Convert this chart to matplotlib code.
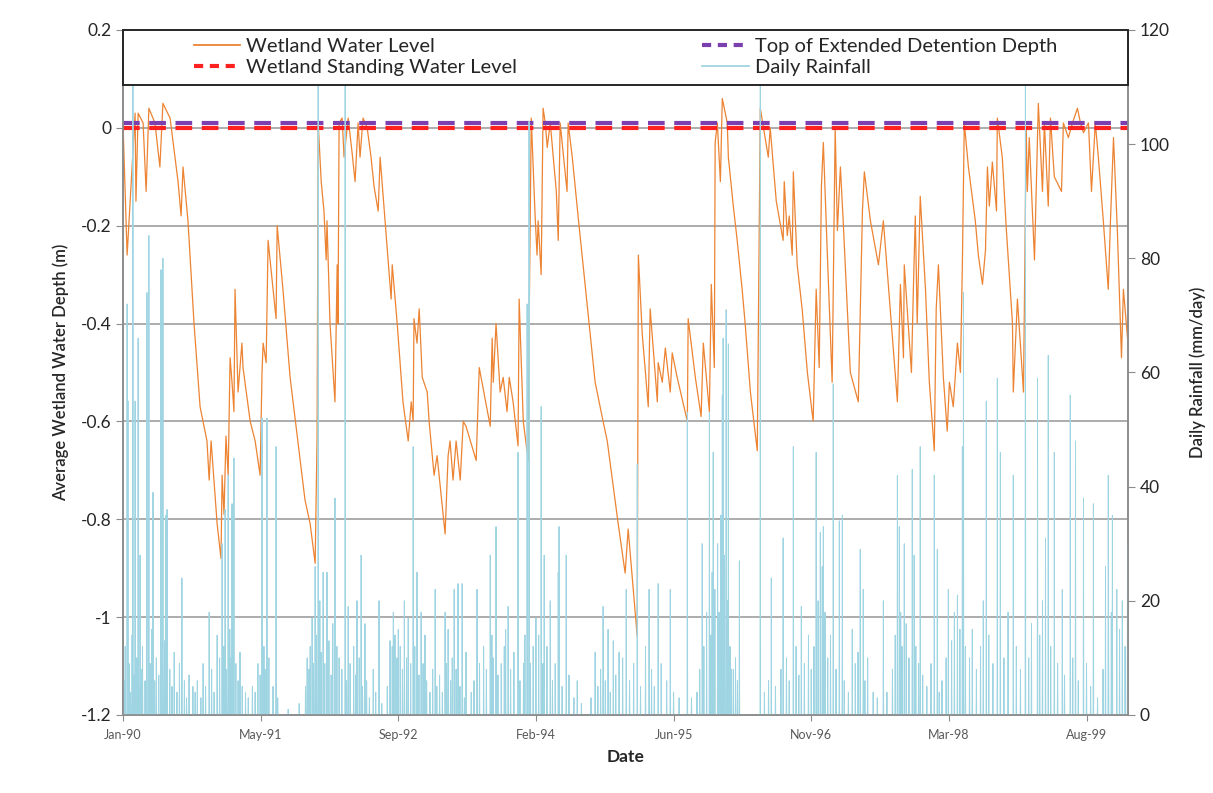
import matplotlib
matplotlib.use('Agg')
import matplotlib.pyplot as plt
import matplotlib.dates as mdates
from matplotlib.lines import Line2D
from matplotlib.patches import Rectangle
import numpy as np
import pandas as pd

plt.rcParams['font.family'] = ['Lato', 'DejaVu Sans']

start = pd.Timestamp('1990-01-01')

# wetland water level (days since 1-Jan-1990, metres)
level_day = [0, 15, 44, 47, 55, 73, 84, 94, 116, 134, 145, 171, 200, 211, 218, 236, 258, 280, 305, 313,
             320, 342, 356, 360, 367, 374, 382, 389, 396, 403, 407, 418, 432, 436, 462, 480, 498, 505, 509, 520,
             527, 556, 560, 581, 607, 661, 680, 698, 705, 709, 720, 730, 738, 741, 752, 770, 778, 781, 785, 796,
             803, 818, 832, 843, 854, 861, 872, 887, 901, 912, 927, 934, 952, 974, 978, 996, 1017, 1036, 1047, 1054,
             1057, 1068, 1076, 1087, 1105, 1112, 1130, 1141, 1170, 1181, 1188, 1199, 1210, 1225, 1236, 1246, 1283, 1294, 1334, 1341,
             1345, 1355, 1370, 1381, 1395, 1403, 1417, 1435, 1439, 1454, 1472, 1475, 1483, 1497, 1504, 1508, 1519, 1526, 1534, 1541,
             1552, 1574, 1581, 1588, 1613, 1617, 1632, 1653, 1693, 1715, 1744, 1759, 1799, 1824, 1835, 1850, 1868, 1872, 1886, 1908,
             1915, 1941, 1944, 1959, 1970, 1988, 1995, 2013, 2050, 2053, 2079, 2100, 2108, 2130, 2137, 2148, 2151, 2159, 2170, 2177,
             2195, 2199, 2217, 2231, 2249, 2260, 2279, 2304, 2315, 2344, 2351, 2373, 2398, 2402, 2413, 2420, 2431, 2435, 2449, 2467,
             2486, 2507, 2518, 2529, 2537, 2544, 2558, 2576, 2587, 2595, 2606, 2616, 2642, 2671, 2686, 2693, 2715, 2744, 2762, 2787,
             2813, 2824, 2835, 2838, 2864, 2871, 2878, 2885, 2896, 2915, 2929, 2947, 2954, 2962, 2980, 2994, 3002, 3016, 3031, 3042,
             3049, 3056, 3071, 3096, 3107, 3122, 3133, 3140, 3147, 3158, 3173, 3176, 3194, 3209, 3231, 3234, 3249, 3271, 3281, 3285,
             3292, 3311, 3325, 3340, 3347, 3361, 3369, 3383, 3409, 3416, 3434, 3449, 3467, 3478, 3489, 3507, 3518, 3532, 3543, 3561,
             3579, 3587, 3598, 3612, 3627, 3634, 3649]
level_m = [0.01, -0.26, 0.03, -0.15, 0.03, 0.01, -0.13, 0.04, 0.01, -0.08, 0.05, 0.02, -0.11, -0.18, -0.08, -0.19, -0.40, -0.57, -0.64, -0.72,
           -0.64, -0.81, -0.88, -0.71, -0.79, -0.63, -0.71, -0.47, -0.52, -0.58, -0.33, -0.54, -0.44, -0.49, -0.60, -0.64, -0.71, -0.50, -0.44, -0.48,
           -0.23, -0.39, -0.20, -0.33, -0.51, -0.76, -0.81, -0.89, -0.63, 0.01, -0.11, -0.17, -0.27, -0.19, -0.40, -0.56, -0.28, -0.40, 0.01, 0.02,
           -0.06, 0.02, -0.05, -0.11, 0.01, -0.06, 0.02, 0.00, -0.06, -0.12, -0.17, -0.06, -0.19, -0.35, -0.28, -0.40, -0.56, -0.64, -0.56, -0.60,
           -0.39, -0.44, -0.37, -0.51, -0.54, -0.60, -0.71, -0.67, -0.83, -0.67, -0.64, -0.72, -0.64, -0.72, -0.60, -0.61, -0.68, -0.49, -0.61, -0.43,
           -0.52, -0.40, -0.54, -0.51, -0.58, -0.51, -0.56, -0.65, -0.35, -0.60, -0.68, -0.42, 0.02, -0.18, -0.26, -0.19, -0.30, 0.04, 0.01, -0.04,
           0.01, -0.13, -0.23, 0.01, -0.13, 0.01, -0.06, -0.18, -0.40, -0.52, -0.60, -0.64, -0.81, -0.91, -0.82, -0.92, -1.04, -0.26, -0.42, -0.57,
           -0.37, -0.56, -0.48, -0.52, -0.45, -0.54, -0.46, -0.51, -0.60, -0.39, -0.51, -0.59, -0.44, -0.58, -0.32, -0.49, -0.03, 0.01, -0.11, 0.06,
           0.01, -0.06, -0.16, -0.23, -0.33, -0.40, -0.54, -0.66, 0.04, -0.06, 0.00, -0.15, -0.23, -0.11, -0.22, -0.18, -0.26, -0.09, -0.28, -0.37,
           -0.50, -0.60, -0.33, -0.49, -0.12, -0.03, -0.25, -0.52, 0.00, -0.21, -0.08, -0.19, -0.50, -0.56, -0.17, -0.09, -0.19, -0.28, -0.19, -0.37,
           -0.56, -0.32, -0.47, -0.28, -0.50, -0.33, -0.18, -0.40, -0.14, -0.33, -0.52, -0.66, -0.37, -0.28, -0.51, -0.62, -0.52, -0.57, -0.44, -0.50,
           -0.28, 0.01, -0.08, -0.19, -0.26, -0.32, -0.25, -0.08, -0.16, -0.07, -0.17, 0.02, -0.06, -0.21, -0.40, -0.54, -0.35, -0.54, 0.00, -0.13,
           -0.02, -0.27, 0.05, -0.13, 0.01, -0.16, 0.02, -0.10, -0.13, 0.01, -0.02, 0.01, 0.04, 0.01, -0.01, 0.01, -0.13, 0.01, -0.06, -0.19,
           -0.33, -0.19, -0.02, -0.21, -0.47, -0.33, -0.43]

# daily rainfall events (days since 1-Jan-1990, mm/day); all other days are dry
rain_day = [15, 18, 36, 44, 55, 62, 87, 94, 109, 138, 145, 156, 160, 214, 254, 291, 313, 342, 360, 371,
            382, 396, 403, 425, 498, 505, 523, 556, 669, 687, 698, 709, 727, 741, 770, 807, 818, 850, 865, 879,
            909, 930, 970, 988, 1007, 1036, 1054, 1068, 1083, 1097, 1134, 1170, 1181, 1203, 1217, 1232, 1246, 1286, 1334, 1355,
            1374, 1399, 1435, 1468, 1475, 1519, 1530, 1552, 1581, 1584, 1610, 1650, 1715, 1744, 1762, 1781, 1802, 1828, 1868, 1911,
            1944, 1988, 2050, 2104, 2130, 2144, 2177, 2180, 2191, 2199, 2217, 2239, 2315, 2355, 2398, 2435, 2464, 2518, 2533, 2544,
            2580, 2602, 2613, 2649, 2678, 2689, 2762, 2813, 2820, 2838, 2867, 2874, 2896, 2947, 2958, 2998, 3031, 3049, 3053, 3136,
            3176, 3187, 3234, 3278, 3322, 3351, 3361, 3383, 3412, 3441, 3460, 3489, 3525, 3569, 3579, 3594, 3649,
            # smaller falls
            3, 8, 22, 27, 33, 40, 50, 58, 66, 71, 80, 99, 104, 115, 121, 130, 151, 170, 178, 186,
            196, 205, 223, 231, 240, 262, 270, 283, 300, 322, 331, 351, 366, 376, 388, 392, 410, 418,
            433, 445, 455, 470, 480, 490, 512, 517, 530, 545, 562, 600, 640, 663, 675, 680, 692, 703,
            715, 720, 733, 748, 756, 762, 777, 785, 795, 812, 825, 838, 845, 858, 870, 885, 895, 918, 940,
            960, 978, 982, 995, 1000, 1015, 1022, 1030, 1045, 1060, 1075, 1090, 1103, 1115, 1125, 1140, 1150, 1160, 1175, 1190,
            1196, 1210, 1224, 1240, 1265, 1275, 1295, 1310, 1320, 1340, 1345, 1362, 1385, 1390, 1408, 1420, 1442, 1455, 1460, 1480,
            1490, 1500, 1510, 1525, 1540, 1560, 1570, 1595, 1620, 1638, 1665, 1700, 1725, 1735, 1752, 1770, 1790, 1815, 1840, 1855,
            1880, 1898, 1920, 1930, 1955, 1975, 2000, 2020, 2065, 2085, 2095, 2110, 2120, 2135, 2140, 2150, 2160, 2165, 2172, 2185,
            2195, 2205, 2210, 2225, 2232, 2330, 2345, 2370, 2390, 2410, 2420, 2445, 2455, 2475, 2490, 2500, 2510, 2525, 2540, 2550,
            2560, 2570, 2590, 2620, 2635, 2660, 2670, 2695, 2705, 2725, 2740, 2775, 2795, 2805, 2825, 2830, 2845, 2855, 2880, 2890,
            2905, 2920, 2935, 2965, 2975, 2990, 3010, 3020, 3040, 3060, 3075, 3085, 3100, 3115, 3125, 3145, 3160, 3200, 3215, 3245,
            3260, 3290, 3300, 3330, 3340, 3370, 3395, 3420, 3450, 3470, 3500, 3515, 3540, 3560, 3580, 3590, 3610, 3620, 3630, 3640]
rain_mm = [72, 55, 115, 55, 66, 28, 74, 84, 39, 78, 80, 35, 36, 24, 5, 9, 18, 14, 30, 36,
           42, 37, 45, 11, 7, 52, 52, 47, 10, 17, 26, 115, 25, 25, 38, 115, 19, 20, 28, 16,
           8, 20, 13, 14, 12, 17, 47, 25, 18, 14, 22, 18, 15, 22, 23, 23, 11, 22, 28, 33,
           9, 19, 46, 72, 104, 54, 28, 20, 25, 33, 28, 6, 11, 19, 15, 13, 11, 22, 44, 22,
           23, 22, 53, 30, 53, 46, 56, 66, 71, 65, 8, 27, 115, 24, 31, 47, 19, 46, 32, 33,
           58, 34, 35, 15, 29, 22, 20, 42, 33, 30, 43, 28, 47, 42, 29, 22, 21, 47, 74, 55,
           59, 46, 42, 115, 59, 31, 63, 46, 22, 56, 48, 38, 37, 26, 42, 35, 30,
           6, 12, 9, 4, 14, 7, 10, 5, 8, 12, 6, 9, 15, 6, 10, 7, 13, 8, 5, 11,
           4, 9, 6, 3, 7, 4, 6, 3, 5, 8, 4, 10, 12, 8, 15, 10, 9, 6,
           5, 4, 3, 5, 4, 9, 12, 8, 10, 5, 3, 1, 2, 5, 8, 12, 9, 14,
           20, 11, 9, 13, 7, 16, 12, 10, 8, 6, 9, 12, 7, 10, 5, 6, 3, 4, 2,
           5, 12, 18, 10, 15, 8, 20, 10, 9, 12, 7, 9, 6, 4, 8, 5, 7, 4, 9, 6,
           10, 8, 5, 3, 4, 6, 9, 12, 8, 14, 10, 7, 12, 15, 8, 11, 6, 9, 14, 9,
           12, 17, 14, 9, 12, 6, 9, 5, 7, 3, 2, 3, 5, 8, 6, 4, 7, 10, 6, 9,
           5, 12, 8, 5, 9, 6, 4, 3, 3, 4, 8, 12, 18, 14, 25, 22, 30, 18, 35, 28,
           20, 12, 8, 10, 6, 4, 6, 5, 8, 10, 6, 12, 7, 9, 14, 8, 12, 20, 26, 18,
           10, 14, 8, 6, 4, 9, 11, 6, 10, 4, 3, 4, 8, 14, 18, 12, 16, 10, 12, 9,
           7, 5, 9, 4, 6, 10, 13, 18, 15, 12, 10, 15, 8, 12, 20, 14, 9, 10, 18, 12,
           8, 10, 16, 14, 20, 12, 9, 7, 10, 6, 9, 5, 3, 8, 14, 18, 22, 15, 20, 12]

standing_level = 0.0
detention_top = 0.01

# build the daily rainfall record (dry days = 0)
n_days = 3652
rain_daily = np.zeros(n_days)
rain_daily[np.array(rain_day)] = rain_mm
daily_dates = start + pd.to_timedelta(np.arange(n_days), unit='D')
level_dates = start + pd.to_timedelta(level_day, unit='D')

fig = plt.figure(figsize=(12.13, 7.93), dpi=100)
ax = fig.add_axes([0.1014, 0.0984, 0.8286, 0.8638])
ax2 = ax.twinx()

c_level = '#EC8433'
c_rain = '#9FD4E2'
c_red = '#FF2020'
c_purple = '#7B3FB0'

ax.plot(level_dates, level_m, color=c_level, lw=0.9, zorder=3)
ax.axhline(standing_level, color=c_red, lw=3, dashes=(4, 2.3), zorder=4)
ax.axhline(detention_top, color=c_purple, lw=3, dashes=(4, 2.3), zorder=4)

ax2.plot(daily_dates, rain_daily, color=c_rain, lw=0.7)

ax.set_ylim(-1.2, 0.2)
ax.set_yticks(np.arange(-1.2, 0.21, 0.2))
ax.yaxis.set_major_formatter(matplotlib.ticker.FuncFormatter(
    lambda v, p: '0' if abs(v) < 1e-9 else f'{round(v, 1):g}'))
ax.grid(axis='y', color='#A6A6A6', lw=1.3)
ax.set_axisbelow(True)
ax2.set_ylim(0, 120)
ax2.set_yticks(range(0, 121, 20))

ax.set_xlim(start, pd.Timestamp('1999-12-31'))
ax.set_xticks([start + pd.Timedelta(days=500 * k) for k in range(8)])
ax.xaxis.set_major_formatter(mdates.DateFormatter('%b-%y'))

for a in (ax, ax2):
    for s in a.spines.values():
        s.set_color('#8C8C8C')
        s.set_linewidth(1.2)
    a.spines['top'].set_visible(False)
ax.tick_params(axis='y', labelsize=12.5, colors='#8C8C8C', labelcolor='#262626', length=5)
ax2.tick_params(axis='y', labelsize=12.5, colors='#8C8C8C', labelcolor='#262626', length=5)
ax.tick_params(axis='x', labelsize=9, colors='#8C8C8C', labelcolor='#595959', length=4, pad=6)

ax.set_ylabel('Average Wetland Water Depth (m)', fontsize=12, fontweight='semibold', color='#262626', labelpad=8)
ax2.set_ylabel('Daily Rainfall (mm/day)', fontsize=12, fontweight='semibold', color='#262626', labelpad=14)
ax.set_xlabel('Date', fontsize=12.5, fontweight='bold', color='#262626', labelpad=6)

# legend box across the top of the plot area
box = Rectangle((0, 0.92), 1, 0.08, transform=ax2.transAxes, facecolor='white',
                edgecolor='#262626', lw=1.4, zorder=5, clip_on=False)
ax2.add_patch(box)

handles = [Line2D([], [], color=c_level, lw=1.3),
           Line2D([], [], color=c_red, lw=3, dashes=(2.2, 1.6)),
           Line2D([], [], color=c_purple, lw=3, dashes=(2.2, 1.6)),
           Line2D([], [], color=c_rain, lw=1.3)]
labels = ['Wetland Water Level', 'Wetland Standing Water Level',
          'Top of Extended Detention Depth', 'Daily Rainfall']
leg = ax2.legend(handles, labels, ncol=2, loc='center', bbox_to_anchor=(0.5, 0.96),
                 fontsize=14.5, frameon=False, handlelength=2.3, handletextpad=0.3,
                 labelspacing=0.2, columnspacing=9.2, borderpad=0)
leg.set_zorder(6)
for t in leg.get_texts():
    t.set_color('#262626')

fig.savefig('out.png', dpi=100)
